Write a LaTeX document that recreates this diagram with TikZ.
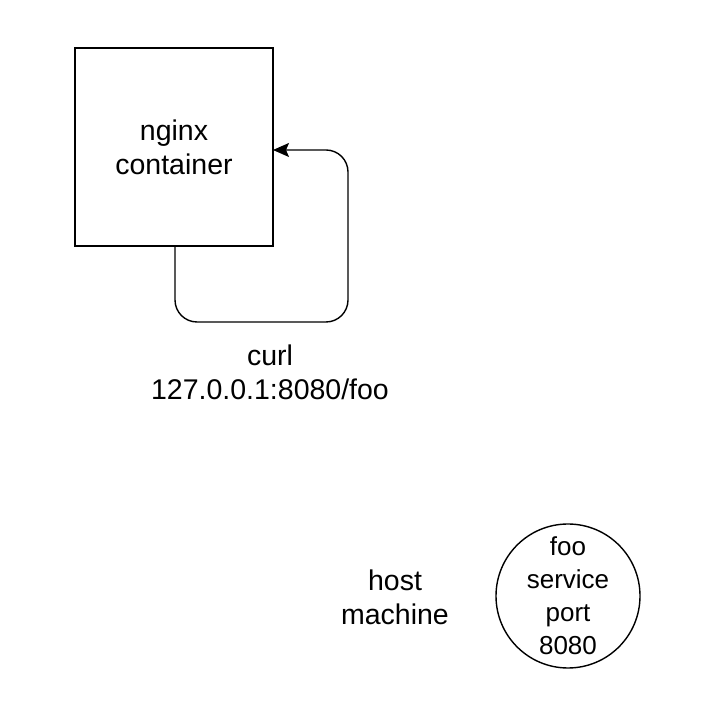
\documentclass[tikz,border=0pt]{standalone}
\usepackage{fontspec}
\setmainfont{Liberation Sans}
\usetikzlibrary{arrows.meta}
\begin{document}
\begin{tikzpicture}[x=1pt,y=1pt,
  lbl/.style={align=center,font=\fontsize{28.5}{34}\selectfont},
  ln/.style={line width=1.4pt}]
\useasboundingbox (0,0) rectangle (720,720);
\node[draw,ln,minimum width=198pt,minimum height=198pt,lbl] (nginx) at (174,573) {nginx\\container};
\coordinate (tgt) at (273,570);
\draw[ln,-{Stealth[length=16pt,width=14pt,inset=3pt]},rounded corners=22pt] (175,474) -- (175,398) -- (348,398) -- (348,570) -- (tgt);
\node[lbl] (curl) at (270,348) {curl\\127.0.0.1:8080/foo};
\node[lbl] (host) at (395,123) {host\\machine};
\node[draw,ln,circle,minimum size=144pt,lbl,inner sep=0pt,font=\fontsize{26}{33}\selectfont] (foo) at (568,124) {foo\\service\\port\\8080};
\end{tikzpicture}
\end{document}
